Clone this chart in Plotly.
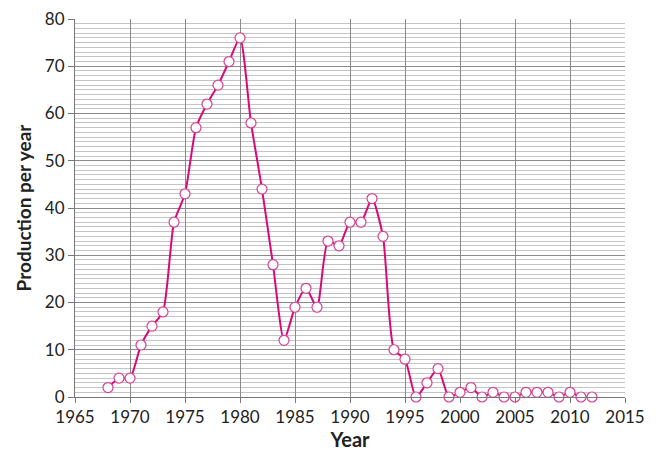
import plotly.graph_objects as go

years = list(range(1968, 2013))
production = [2, 4, 4, 11, 15, 18, 37, 43, 57, 62, 66, 71, 76, 58, 44, 28, 12,
              19, 23, 19, 33, 32, 37, 37, 42, 34, 10, 8, 0, 3, 6, 0, 1, 2, 0,
              1, 0, 0, 1, 1, 1, 0, 1, 0, 0]

x_title = "Year"
y_title = "Production per year"

fig = go.Figure()
fig.add_trace(go.Scatter(
    x=years, y=production, mode="lines+markers",
    line=dict(color="#D8097A", width=2, shape="spline", smoothing=0.6),
    marker=dict(symbol="circle", size=10, color="white",
                line=dict(color="#D8408F", width=1.2)),
    showlegend=False,
    cliponaxis=False,
))

font_family = "Lato, 'Open Sans', sans-serif"
# page body has an 8px default margin, so the figure is sized to fit the window
fig.update_layout(
    width=648, height=453,
    margin=dict(l=67, r=31, t=11, b=64, autoexpand=False),
    paper_bgcolor="white", plot_bgcolor="white",
    font=dict(family=font_family, size=17, color="#222"),
)
fig.update_xaxes(
    range=[1965, 2015], tick0=1965, dtick=5,
    showgrid=True, gridcolor="#8a8a8a", gridwidth=1,
    showline=True, linecolor="#777", linewidth=1,
    ticks="outside", ticklen=5, tickcolor="#777",
    zeroline=False, automargin=False, ticklabeloverflow="allow",
    title=dict(text="<b>" + x_title + "</b>", font=dict(size=20, family=font_family, color="#222"), standoff=6),
)
fig.update_yaxes(
    range=[0, 80], dtick=10,
    showgrid=True, gridcolor="#8a8a8a", gridwidth=1,
    minor=dict(dtick=1, showgrid=True, gridcolor="#c4c4c4", gridwidth=1),
    showline=True, linecolor="#777", linewidth=1,
    ticks="outside", ticklen=6, tickcolor="#777",
    zeroline=False, automargin=False, ticklabeloverflow="allow",
    title=dict(text="<b>" + y_title + "</b>", font=dict(size=19, family=font_family, color="#222"), standoff=8),
)
fig.write_html("out.html")
